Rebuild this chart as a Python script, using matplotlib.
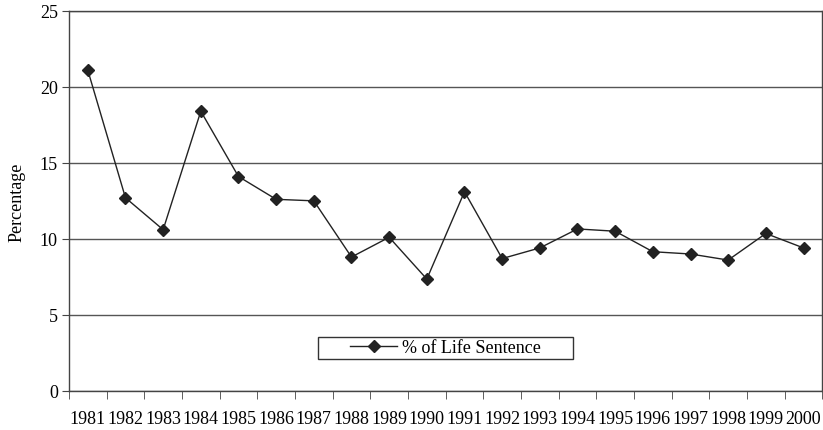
import matplotlib.pyplot as plt
from matplotlib.patches import Rectangle
import numpy as np

# Data
years = [str(y) for y in range(1981, 2001)]
life_pct = [21.1, 12.7, 10.6, 18.4, 14.1, 12.6, 12.5, 8.8, 10.1, 7.35,
            13.1, 8.7, 9.4, 10.65, 10.5, 9.15, 9.0, 8.6, 10.35, 9.4]
y_ticks = [0, 5, 10, 15, 20, 25]

plt.rcParams['font.family'] = ['Liberation Serif', 'DejaVu Serif']

fig = plt.figure(figsize=(8.23, 4.31), dpi=100)
ax = fig.add_axes([0.0838, 0.0912, 0.9154, 0.881])

x = np.arange(len(years))
ax.plot(x, life_pct, color='#222222', linewidth=1.0, marker='D',
        markersize=6, markerfacecolor='#222222', markeredgecolor='#222222',
        label='% of Life Sentence', zorder=3)

ax.set_xlim(-0.5, len(years) - 0.5)
ax.set_ylim(0, 25)
ax.set_yticks(y_ticks)
ax.set_yticklabels([str(t) for t in y_ticks], fontsize=13)
ax.yaxis.grid(True, color='#555555', linewidth=1.0)
ax.set_axisbelow(True)

# category labels centred, tick marks between categories
ax.set_xticks(x)
ax.set_xticklabels(years, fontsize=13)
ax.tick_params(axis='x', which='major', length=0, pad=14)
ax.set_xticks(np.arange(-0.5, len(years)), minor=True)
ax.tick_params(axis='x', which='minor', length=6, direction='out', color='#444444')
ax.tick_params(axis='y', length=5, direction='out', color='#444444', pad=3)

for s in ax.spines.values():
    s.set_color('#444444')
    s.set_linewidth(1.0)

ax.set_ylabel('Percentage', fontsize=13, labelpad=10)

# legend without its own frame; a wider box is drawn around it
leg = ax.legend(loc='center', bbox_to_anchor=(0.5, 0.1125), fontsize=13,
                frameon=False, handlelength=2.6, borderpad=0.2,
                handletextpad=0.3)
ax.add_patch(Rectangle((0.3305, 0.0835), 0.3385, 0.0587, transform=ax.transAxes,
                       facecolor='white', edgecolor='#333333', linewidth=1.0,
                       zorder=2.5))

fig.savefig('out.png', dpi=100)
